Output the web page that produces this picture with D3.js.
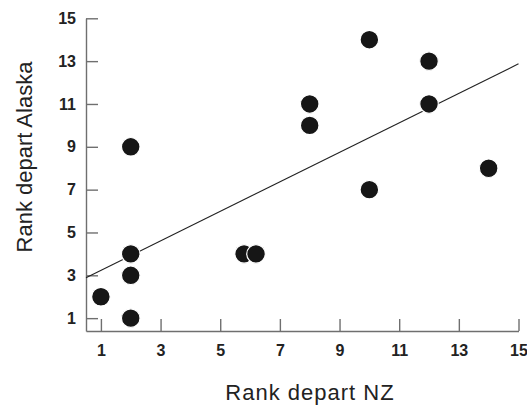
<!DOCTYPE html>
<html>
<head>
<meta charset="utf-8">
<script src="https://cdn.jsdelivr.net/npm/d3@7"></script>
<style>
  html, body { margin: 0; padding: 0; background: #fff; }
  svg { display: block; }
</style>
</head>
<body>
<svg id="chart" width="527" height="407"></svg>
<script>
// Departure ranks: New Zealand (x) vs Alaska (y)
const rankNZ     = [1, 2, 2, 2, 2, 5.8, 6.2, 8, 8, 10, 10, 12, 12, 14];
const rankAlaska = [2, 9, 4, 3, 1, 4,   4,   11, 10, 14, 7, 13, 11, 8];
const xTicks = [1, 3, 5, 7, 9, 11, 13, 15];
const yTicks = [1, 3, 5, 7, 9, 11, 13, 15];

const svg = d3.select("#chart");
const x = d3.scaleLinear().domain([0.5, 15]).range([86, 518.5]);
const y = d3.scaleLinear().domain([0.4, 15]).range([331, 18.3]);

const axisColor = "#6f6f6f";
const textColor = "#222";

// Y axis, ticks pointing inward
const gy = svg.append("g")
  .attr("transform", `translate(${x.range()[0]},0)`)
  .call(d3.axisLeft(y).tickValues(yTicks).tickSizeInner(-12).tickSizeOuter(0).tickPadding(10));
// X axis, ticks pointing upward
const gx = svg.append("g")
  .attr("transform", `translate(0,${y.range()[0]})`)
  .call(d3.axisBottom(x).tickValues(xTicks).tickSizeInner(-12).tickSizeOuter(0).tickPadding(14));

[gx, gy].forEach(g => {
  g.select(".domain").attr("stroke", axisColor).attr("stroke-width", 1.4);
  g.selectAll(".tick line").attr("stroke", axisColor).attr("stroke-width", 1.4);
  g.selectAll(".tick text")
    .attr("fill", textColor)
    .style("font-family", "'Liberation Sans', Arial, sans-serif")
    .style("font-size", "16px")
    .style("font-weight", "bold");
});

// Least-squares fit line
const n = rankNZ.length;
const mx = d3.mean(rankNZ), my = d3.mean(rankAlaska);
let sxy = 0, sxx = 0;
for (let i = 0; i < n; i++) {
  sxy += (rankNZ[i] - mx) * (rankAlaska[i] - my);
  sxx += (rankNZ[i] - mx) ** 2;
}
const slope = sxy / sxx;
const intercept = my - slope * mx;
const fitX = x.domain();
svg.append("line")
  .attr("x1", x(fitX[0])).attr("y1", y(intercept + slope * fitX[0]))
  .attr("x2", x(fitX[1])).attr("y2", y(intercept + slope * fitX[1]))
  .attr("stroke", "#222").attr("stroke-width", 1.1);

// Points
svg.append("g").selectAll("circle")
  .data(rankNZ.map((v, i) => [v, rankAlaska[i]]))
  .join("circle")
  .attr("cx", d => x(d[0]))
  .attr("cy", d => y(d[1]))
  .attr("r", 9.3)
  .attr("fill", "#161616")
  .attr("stroke", "#fff")
  .attr("stroke-width", 1.2);

// Axis titles
svg.append("text")
  .attr("x", 310).attr("y", 400)
  .attr("text-anchor", "middle")
  .attr("fill", textColor)
  .style("font-family", "'Liberation Sans', Arial, sans-serif")
  .style("font-size", "22px")
  .style("letter-spacing", "1px")
  .text("Rank depart NZ");

svg.append("text")
  .attr("transform", "translate(32,157) rotate(-90)")
  .attr("text-anchor", "middle")
  .attr("fill", textColor)
  .style("font-family", "'Liberation Sans', Arial, sans-serif")
  .style("font-size", "22px")
  .text("Rank depart Alaska");
</script>
</body>
</html>
